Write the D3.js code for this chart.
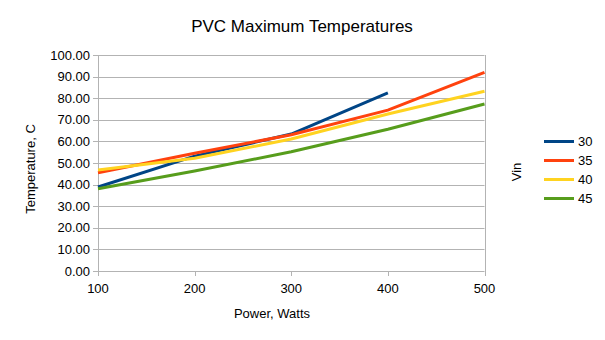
<!DOCTYPE html>
<html>
<head>
<meta charset="utf-8">
<script src="https://cdn.jsdelivr.net/npm/d3@7"></script>
<style>
  body { margin: 0; background: #fff; }
  text { font-family: "Liberation Sans", Arial, sans-serif; fill: #000; }
</style>
</head>
<body>
<div id="canvas"></div>
<script>
// datos
var potencias = [100, 200, 300, 400, 500];
var vin30 = [38.9, 53.2, 63.4, 82.5];
var vin35 = [45.5, 54.5, 63.1, 74.5, 92.0];
var vin40 = [46.8, 52.2, 61.1, 72.7, 83.2];
var vin45 = [38.1, 46.3, 55.2, 65.6, 77.3];
var nombresSeries = ["30", "35", "40", "45"];
var yTicks = [0, 10, 20, 30, 40, 50, 60, 70, 80, 90, 100];

var series = [vin30, vin35, vin40, vin45].map(function(v, i) {
    return {
        nombre: nombresSeries[i],
        puntos: v.map(function(t, j) { return { x: potencias[j], y: t }; })
    };
});

var colores = d3.scaleOrdinal()
    .domain(nombresSeries)
    .range(["#004586", "#ff420e", "#ffd320", "#579d1c"]);

var width = 605;
var height = 340;
var margin = {top: 55, left: 98, right: 120, bottom: 69};

var svg = d3.select("#canvas").append("svg")
    .attr("width", width)
    .attr("height", height);

var x = d3.scaleLinear()
    .domain([100, 500])
    .range([margin.left, 484.5]);

var y = d3.scaleLinear()
    .domain([0, 100])
    .range([271, margin.top]);

// rejilla horizontal
svg.append("g")
    .selectAll("line")
    .data(yTicks)
    .enter().append("line")
    .attr("x1", x(100) - 5)
    .attr("x2", x(500))
    .attr("y1", function(d) { return Math.round(y(d)) + 0.5; })
    .attr("y2", function(d) { return Math.round(y(d)) + 0.5; })
    .attr("stroke", "#b3b3b3")
    .attr("stroke-width", 1);

// bordes verticales
svg.append("line")
    .attr("x1", Math.round(x(100)) + 0.5).attr("x2", Math.round(x(100)) + 0.5)
    .attr("y1", y(100)).attr("y2", y(0))
    .attr("stroke", "#b3b3b3");
svg.append("line")
    .attr("x1", Math.round(x(500)) + 0.5).attr("x2", Math.round(x(500)) + 0.5)
    .attr("y1", y(100)).attr("y2", y(0) + 5)
    .attr("stroke", "#b3b3b3");

// marcas del eje x
svg.append("g")
    .selectAll("line")
    .data(potencias)
    .enter().append("line")
    .attr("x1", function(d) { return Math.round(x(d)) + 0.5; })
    .attr("x2", function(d) { return Math.round(x(d)) + 0.5; })
    .attr("y1", y(0))
    .attr("y2", y(0) + 5)
    .attr("stroke", "#b3b3b3");

// etiquetas eje y
svg.append("g")
    .selectAll("text")
    .data(yTicks)
    .enter().append("text")
    .attr("x", x(100) - 8)
    .attr("y", function(d) { return y(d) + 4.5; })
    .attr("text-anchor", "end")
    .attr("font-size", "13px")
    .text(function(d) { return d3.format(".2f")(d); });

// etiquetas eje x
svg.append("g")
    .selectAll("text")
    .data(potencias)
    .enter().append("text")
    .attr("x", function(d) { return x(d); })
    .attr("y", 293)
    .attr("text-anchor", "middle")
    .attr("font-size", "13px")
    .text(function(d) { return d; });

// líneas
var linea = d3.line()
    .x(function(d) { return x(d.x); })
    .y(function(d) { return y(d.y); });

svg.selectAll(".serie")
    .data(series)
    .enter().append("path")
    .attr("class", "serie")
    .attr("d", function(d) { return linea(d.puntos); })
    .attr("fill", "none")
    .attr("stroke", function(d) { return colores(d.nombre); })
    .attr("stroke-width", 3)
    .attr("stroke-linejoin", "round");

// títulos
svg.append("text")
    .attr("x", 302)
    .attr("y", 32)
    .attr("text-anchor", "middle")
    .attr("font-size", "17px")
    .text("PVC Maximum Temperatures");

svg.append("text")
    .attr("x", 272)
    .attr("y", 318)
    .attr("text-anchor", "middle")
    .attr("font-size", "13px")
    .text("Power, Watts");

svg.append("text")
    .attr("transform", "translate(35,169) rotate(-90)")
    .attr("text-anchor", "middle")
    .attr("font-size", "13px")
    .text("Temperature, C");

// leyenda
var leyenda = svg.append("g");

leyenda.append("text")
    .attr("transform", "translate(521,172) rotate(-90)")
    .attr("text-anchor", "middle")
    .attr("font-size", "13px")
    .text("Vin");

var items = leyenda.selectAll(".item")
    .data(nombresSeries)
    .enter().append("g")
    .attr("class", "item")
    .attr("transform", function(d, i) { return "translate(544," + (141.5 + i * 19) + ")"; });

items.append("line")
    .attr("x1", 0)
    .attr("x2", 30)
    .attr("stroke", function(d) { return colores(d); })
    .attr("stroke-width", 3);

items.append("text")
    .attr("x", 34)
    .attr("y", 4.5)
    .attr("font-size", "13px")
    .text(function(d) { return d; });
</script>
</body>
</html>
